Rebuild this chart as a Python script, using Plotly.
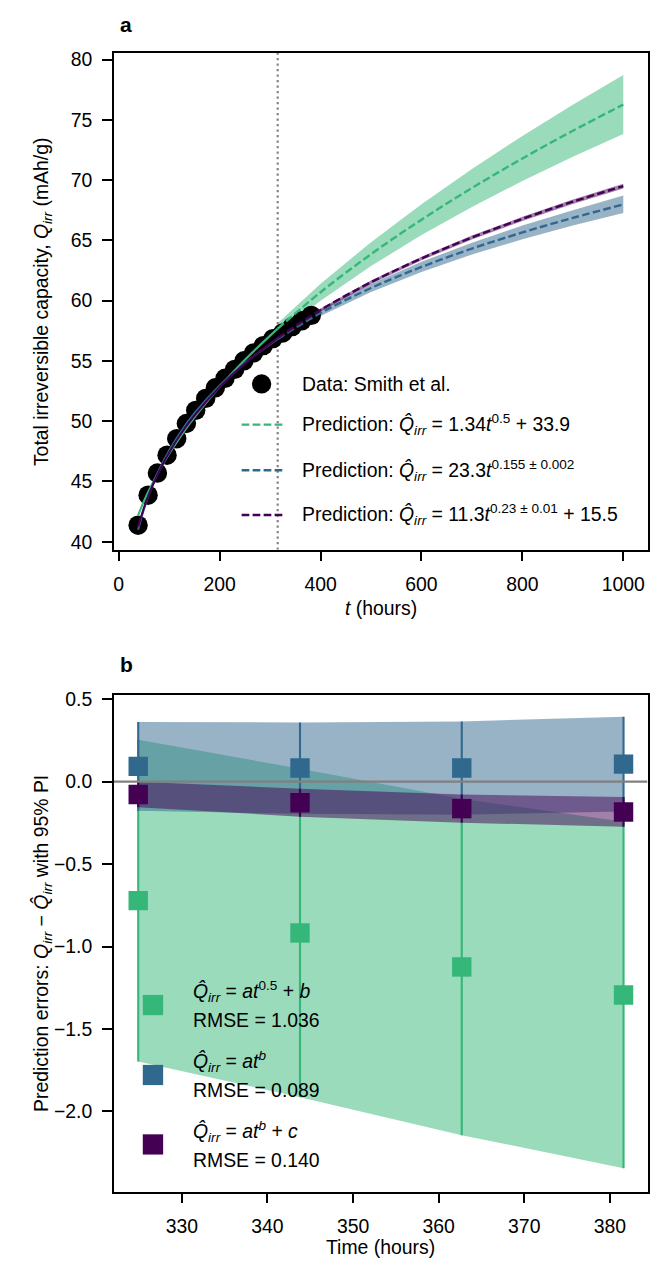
import plotly.graph_objects as go

W, H = 650, 1265
FONT = "Liberation Sans, Arial, sans-serif"
FS = 19.4

# ---------------- panel a: capacity fade data and model curves ----------------
T_OBS = [38.3, 58.1, 76.6, 95.7, 114.9, 134.0, 152.5, 172.3, 191.4, 210.6,
         229.7, 248.2, 267.3, 286.5, 305.6, 324.9, 343.8, 362.7, 381.6]
Q_OBS = [41.37, 43.86, 45.70, 47.18, 48.55, 49.81, 50.90, 51.89, 52.77, 53.56,
         54.30, 55.01, 55.67, 56.27, 56.85, 57.32, 57.85, 58.33, 58.78]

T_SPLIT = 315

# fitted region (solid)
T_FIT = [38.3, 50, 60, 80, 100, 125, 150, 200, 250, 315]
FIT_SQRT = [42.19, 43.38, 44.28, 45.89, 47.30, 48.88, 50.31, 52.85, 55.09, 57.68]
FIT_POW = [41.00, 42.73, 43.95, 45.96, 47.57, 49.25, 50.66, 52.97, 54.83, 56.83]
FIT_POWC = [41.24, 42.82, 43.95, 45.85, 47.41, 49.06, 50.47, 52.83, 54.78, 56.91]

# extrapolated region (dashed) with uncertainty bands
T_PRED = [315, 400, 500, 600, 700, 800, 900, 1000]
PRED_SQRT = [57.68, 60.70, 63.86, 66.72, 69.35, 71.80, 74.10, 76.27]
PRED_SQRT_HI = [58.13, 61.40, 64.85, 68.00, 70.92, 73.67, 76.26, 78.72]
PRED_SQRT_LO = [57.23, 60.00, 62.87, 65.44, 67.78, 69.93, 71.94, 73.82]
PRED_POW = [56.83, 58.98, 61.05, 62.80, 64.32, 65.66, 66.87, 67.98]
PRED_POW_HI = [57.03, 59.24, 61.39, 63.22, 64.81, 66.23, 67.51, 68.72]
PRED_POW_LO = [56.63, 58.72, 60.71, 62.38, 63.83, 65.09, 66.23, 67.28]
PRED_POWC = [56.91, 59.23, 61.53, 63.50, 65.24, 66.79, 68.21, 69.51]
PRED_POWC_HI = [57.03, 59.36, 61.67, 63.65, 65.40, 66.96, 68.40, 69.71]
PRED_POWC_LO = [56.79, 59.10, 61.39, 63.35, 65.08, 66.62, 68.02, 69.31]

XA_TICKS = [0, 200, 400, 600, 800, 1000]
YA_TICKS = [40, 45, 50, 55, 60, 65, 70, 75, 80]
XA_RANGE = [-9.8, 1048.0]
YA_RANGE = [39.34, 80.58]

# ---------------- panel b: prediction errors on held-out points ----------------
T_TEST = [324.9, 343.8, 362.7, 381.6]
ERR_SQRT = [-0.722, -0.918, -1.124, -1.294]
ERR_SQRT_HI = [0.254, 0.078, -0.104, -0.244]
ERR_SQRT_LO = [-1.698, -1.914, -2.144, -2.344]
ERR_POW = [0.092, 0.082, 0.082, 0.106]
ERR_POW_HI = [0.361, 0.359, 0.365, 0.393]
ERR_POW_LO = [-0.177, -0.195, -0.201, -0.181]
ERR_POWC = [-0.078, -0.128, -0.164, -0.184]
ERR_POWC_HI = [-0.001, -0.043, -0.079, -0.094]
ERR_POWC_LO = [-0.155, -0.213, -0.249, -0.274]

XB_TICKS = [330, 340, 350, 360, 370, 380]
YB_TICKS = [-2.0, -1.5, -1.0, -0.5, 0.0, 0.5]
YB_TICKTEXT = ["\u22122.0", "\u22121.5", "\u22121.0", "\u22120.5", "0.0", "0.5"]
XB_RANGE = [322.05, 384.4]
YB_RANGE = [-2.486, 0.528]

GREEN = "#35b779"
BLUE = "#31688e"
PURPLE = "#440154"
GRAY = "#808080"


def rgba(hex_color, a):
    h = hex_color.lstrip("#")
    r, g, b = int(h[0:2], 16), int(h[2:4], 16), int(h[4:6], 16)
    return f"rgba({r},{g},{b},{a})"


QHAT = "<i>Q\u0302</i><sub><i>irr</i></sub>"
LEGEND_A = [
    "Data: Smith et al.",
    f"Prediction: {QHAT} = 1.34<i>t</i><sup>0.5</sup> + 33.9",
    f"Prediction: {QHAT} = 23.3<i>t</i><sup>0.155 \u00b1 0.002</sup>",
    f"Prediction: {QHAT} = 11.3<i>t</i><sup>0.23 \u00b1 0.01</sup> + 15.5",
]
LEGEND_B_EQ = [
    f"{QHAT} = <i>at</i><sup>0.5</sup> + <i>b</i>",
    f"{QHAT} = <i>at</i><sup><i>b</i></sup>",
    f"{QHAT} = <i>at</i><sup><i>b</i></sup> + <i>c</i>",
]
LEGEND_B_RMSE = ["RMSE = 1.036", "RMSE = 0.089", "RMSE = 0.140"]

# plot-area geometry in pixels
AX_L, AX_R = 114, 648.5
A_TOP, A_BOT = 46, 547
B_TOP, B_BOT = 693, 1194


def px(x):
    return x / W


def py(y):
    return 1 - y / H


fig = go.Figure()

# ---- panel a
band_specs = [(PRED_SQRT_LO, PRED_SQRT_HI, GREEN),
              (PRED_POW_LO, PRED_POW_HI, BLUE),
              (PRED_POWC_LO, PRED_POWC_HI, PURPLE)]
for lo, hi, col in band_specs:
    fig.add_trace(go.Scatter(
        x=T_PRED + T_PRED[::-1], y=hi + lo[::-1], fill="toself",
        fillcolor=rgba(col, 0.5), line=dict(width=0), mode="lines",
        xaxis="x", yaxis="y", hoverinfo="skip", showlegend=False))

fig.add_trace(go.Scatter(
    x=[T_SPLIT, T_SPLIT], y=YA_RANGE, mode="lines",
    line=dict(color=GRAY, width=2.1, dash="2.1px,3.4px"),
    xaxis="x", yaxis="y", showlegend=False))

fig.add_trace(go.Scatter(
    x=T_OBS, y=Q_OBS, mode="markers",
    marker=dict(color="black", size=19.4, line=dict(width=0)),
    xaxis="x", yaxis="y", showlegend=False))

for vals, col in [(FIT_SQRT, GREEN), (FIT_POW, BLUE), (FIT_POWC, PURPLE)]:
    fig.add_trace(go.Scatter(
        x=T_FIT, y=vals, mode="lines", line=dict(color=col, width=2.1, shape="spline"),
        xaxis="x", yaxis="y", showlegend=False))

for vals, col in [(PRED_SQRT, GREEN), (PRED_POW, BLUE), (PRED_POWC, PURPLE)]:
    fig.add_trace(go.Scatter(
        x=T_PRED, y=vals, mode="lines",
        line=dict(color=col, width=2.4, shape="spline", dash="7.7px,3.3px"),
        xaxis="x", yaxis="y", showlegend=False))

# ---- panel b
err_specs = [(ERR_SQRT, ERR_SQRT_LO, ERR_SQRT_HI, GREEN),
             (ERR_POW, ERR_POW_LO, ERR_POW_HI, BLUE),
             (ERR_POWC, ERR_POWC_LO, ERR_POWC_HI, PURPLE)]
for mid, lo, hi, col in err_specs:
    fig.add_trace(go.Scatter(
        x=T_TEST + T_TEST[::-1], y=hi + lo[::-1], fill="toself",
        fillcolor=rgba(col, 0.5), line=dict(width=0), mode="lines",
        xaxis="x2", yaxis="y2", hoverinfo="skip", showlegend=False))
    fig.add_trace(go.Scatter(
        x=T_TEST, y=mid, mode="markers",
        marker=dict(symbol="square", color=col, size=19.4, line=dict(width=0)),
        error_y=dict(type="data", symmetric=False,
                     array=[h - m for h, m in zip(hi, mid)],
                     arrayminus=[m - l for m, l in zip(mid, lo)],
                     color=col, thickness=2.1, width=0),
        xaxis="x2", yaxis="y2", showlegend=False))

fig.add_trace(go.Scatter(
    x=XB_RANGE, y=[0, 0], mode="lines", line=dict(color=GRAY, width=2.2),
    xaxis="x2", yaxis="y2", showlegend=False))

# ---- axes
axis_common = dict(
    showline=True, mirror=True, linecolor="black", linewidth=2.0,
    ticks="outside", ticklen=9.7, tickwidth=2.0, tickcolor="black",
    showgrid=False, zeroline=False,
    tickfont=dict(family=FONT, size=FS, color="black"),
    ticklabelstandoff=6,
)
dom_x = [px(AX_L), px(AX_R)]
fig.update_layout(
    xaxis=dict(domain=dom_x, range=XA_RANGE, tickvals=XA_TICKS, anchor="y", **axis_common),
    yaxis=dict(domain=[py(A_BOT), py(A_TOP)], range=YA_RANGE, tickvals=YA_TICKS,
               anchor="x", **axis_common),
    xaxis2=dict(domain=dom_x, range=XB_RANGE, tickvals=XB_TICKS, anchor="y2", **axis_common),
    yaxis2=dict(domain=[py(B_BOT), py(B_TOP)], range=YB_RANGE, tickvals=YB_TICKS,
                ticktext=YB_TICKTEXT, anchor="x2", **axis_common),
)

# ---- text: panel letters and axis titles
ann = []


def text(x, y, s, size=FS, xanchor="center", yanchor="middle", angle=0, bold=False):
    ann.append(dict(
        x=px(x), y=py(y), xref="paper", yref="paper", text=(f"<b>{s}</b>" if bold else s),
        showarrow=False, xanchor=xanchor, yanchor=yanchor, textangle=angle,
        font=dict(family=FONT, size=size, color="black")))


text(118, 18, "a", size=21, xanchor="left", bold=True)
text(118, 663, "b", size=21, xanchor="left", bold=True)
text((AX_L + AX_R) / 2, 606, "<i>t</i> (hours)")
text((AX_L + AX_R) / 2, 1250, "Time (hours)")
text(42, (A_TOP + A_BOT) / 2,
     "Total irreversible capacity, <i>Q</i><sub><i>irr</i></sub> (mAh/g)", angle=-90)
text(42, (B_TOP + B_BOT) / 2,
     f"Prediction errors: <i>Q</i><sub><i>irr</i></sub> \u2212 {QHAT} with 95% PI", angle=-90)

# ---- legend, panel a
shapes = []
shapes.append(dict(type="circle", xref="paper", yref="paper",
                   x0=px(252.3), x1=px(271.7), y0=py(389.7), y1=py(370.3),
                   fillcolor="black", line=dict(width=0)))
text(300, 380, LEGEND_A[0], xanchor="left")
for i, (col, yy) in enumerate([(GREEN, 421), (BLUE, 467), (PURPLE, 512)]):
    shapes.append(dict(type="line", xref="paper", yref="paper",
                       x0=px(242), x1=px(284), y0=py(yy), y1=py(yy),
                       line=dict(color=col, width=2.4, dash="7.7px,3.3px")))
    text(300, yy, LEGEND_A[i + 1], xanchor="left")

# ---- legend, panel b
for i, (col, yy) in enumerate([(GREEN, 1006), (BLUE, 1076.5), (PURPLE, 1146.5)]):
    shapes.append(dict(type="rect", xref="paper", yref="paper",
                       x0=px(143), x1=px(163.4), y0=py(yy + 10.2), y1=py(yy - 10.2),
                       fillcolor=col, line=dict(width=0)))
    text(191, yy - 13.5, LEGEND_B_EQ[i], xanchor="left")
    text(191, yy + 15.5, LEGEND_B_RMSE[i], xanchor="left")

fig.update_layout(
    width=W, height=H, margin=dict(l=0, r=0, t=0, b=0),
    paper_bgcolor="white", plot_bgcolor="white",
    annotations=ann, shapes=shapes, showlegend=False,
    font=dict(family=FONT, size=FS, color="black"),
)

fig.write_html("out.html", config={"displayModeBar": False})
